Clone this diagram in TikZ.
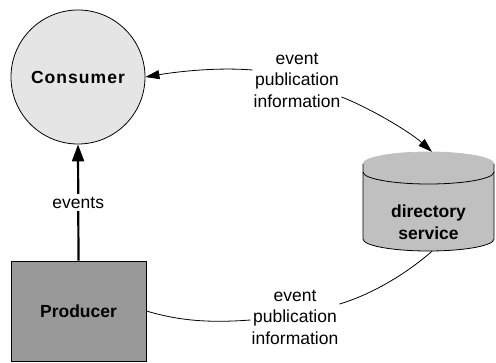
\documentclass[tikz,border=0pt]{standalone}
\usepackage{fontspec}
\setmainfont{Liberation Sans}
\usetikzlibrary{arrows.meta,calc}
\definecolor{consfill}{HTML}{E5E5E5}
\definecolor{prodfill}{HTML}{999999}
\definecolor{cylfill}{HTML}{C0C0C0}
\begin{document}
\begin{tikzpicture}[x=1pt,y=-1pt,
  lbl/.style={font=\fontsize{17.5}{21.5}\selectfont, align=center, inner sep=1pt},
  boldtxt/.style={font=\fontsize{17.5}{22}\selectfont\bfseries, align=center},
  conn/.style={line width=0.8pt},
  thickconn/.style={line width=2.2pt},
  tip/.style={-{Triangle[length=14pt,width=9pt]}},
  bigtip/.style={-{Triangle[length=17pt,width=12pt]}},
  outline/.style={draw, line width=0.8pt}]
\useasboundingbox (0,0) rectangle (496,362);
% Consumer
\node[circle, outline, fill=consfill, minimum size=134pt, inner sep=0pt, boldtxt] (consumer) at (78,77) {\addfontfeature{LetterSpace=6}Consumer};
% Producer
\node[rectangle, outline, fill=prodfill, minimum width=135pt, minimum height=100pt, inner sep=0pt, boldtxt] (producer) at (78.5,311) {Producer};
% Directory service cylinder
\fill[cylfill] (363,164) -- (363,239) arc[start angle=180, end angle=0, x radius=65.5, y radius=12] -- (494,164) -- cycle;
\fill[cylfill, draw, line width=0.8pt] (428.5,164) ellipse [x radius=65.5, y radius=12];
\draw[line width=0.8pt] (363,172) arc[start angle=180, end angle=0, x radius=65.5, y radius=12];
\draw[line width=0.8pt] (363,164) -- (363,239) arc[start angle=180, end angle=0, x radius=65.5, y radius=12] -- (494,164);
\node[minimum width=131pt, minimum height=99pt, inner sep=0pt] (dirsvc) at (428.5,201.5) {};
\node[boldtxt] (dirtext) at (428.5,222) {directory\\service};
% Labels
\node[lbl] (lab1) at (297,80) {event\\publication\\information};
\node[lbl] (lab2) at (295,317) {event\\publication\\information};
% Connectors
\draw[thickconn, bigtip] (producer.north) -- node[lbl, fill=white, inner sep=3pt] (evlab) {events} (consumer.south);
\draw[conn, tip] ($(lab1.west)+(0,-10)$) .. controls (215,67) and (175,72) .. (consumer.east);
\draw[conn, tip] ($(lab1.east)+(0,17)$) .. controls (370,108) and (410,132) .. ([xshift=3.5pt]dirsvc.north);
\draw[conn] (producer.east) .. controls (180,321) and (210,323) .. ($(lab2.west)+(0,3)$);
\draw[conn] ($(lab2.east)+(0,-13)$) .. controls (370,295) and (405,275) .. ([xshift=3.5pt]dirsvc.south);
\end{tikzpicture}
\end{document}
